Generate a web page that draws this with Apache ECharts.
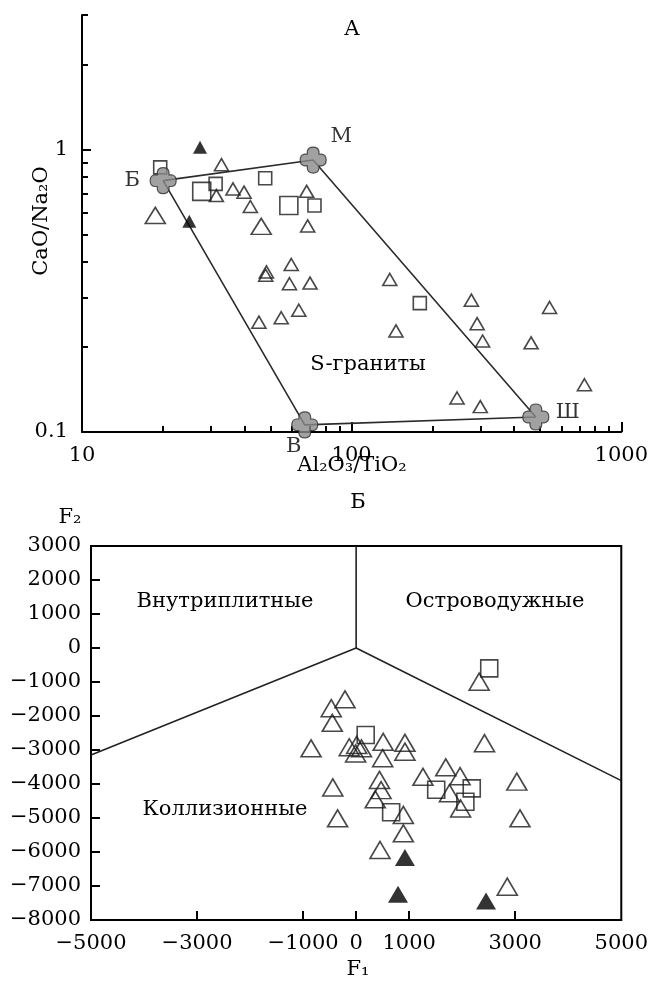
<!DOCTYPE html>
<html><head><meta charset="utf-8">
<script src="https://cdn.jsdelivr.net/npm/echarts@6/dist/echarts.min.js"></script>
<style>html,body{margin:0;padding:0;background:#fff}#c{width:651px;height:988px}</style>
</head><body><div id="c"></div>
<script>
// ---------- Panel A: Al2O3/TiO2 vs CaO/Na2O (log-log) ----------
const endNames = ['Б', 'М', 'Ш', 'В'];
const endX = [20, 72, 482, 67];
const endY = [0.777, 0.919, 0.113, 0.106];
const topTriSmall = [[32.9,0.885],[31.5,0.688],[36.3,0.726],[39.9,0.707],[42.1,0.629],[68.1,0.712],[68.7,0.537],
  [48.3,0.369],[48.0,0.359],[59.7,0.392],[58.8,0.335],[70.1,0.337],[45.3,0.245],[54.8,0.254],[63.7,0.270],
  [138.5,0.347],[278,0.293],[542,0.276],[146,0.228],[292,0.242],[306,0.210],[463,0.207],[730,0.147],[246,0.132],[300,0.123]];
const topTriBig = [[18.7,0.585],[46.2,0.535]];
const topSqSmall = [[19.5,0.866],[31.3,0.757],[47.8,0.792],[72.8,0.634],[179,0.286]];
const topSqBig = [[27.8,0.712],[58.5,0.634]];
const topTriFilled = [[27.4,1.02],[25.0,0.558]];
const xLabelsTop = [10, 100, 1000];
const yLabelsTop = [0.1, 1];
const xMinorTop = [20,30,40,50,60,70,80,90,200,300,400,500,600,700,800,900];
const yMinorTop = [0.2,0.3,0.4,0.5,0.6,0.7,0.8,0.9,2,3];

// ---------- Panel Б: F1 vs F2 ----------
const botTri = [[-210,-1510],[-470,-1770],[-450,-2200],[-850,-2950],[-130,-2920],[10,-2850],[100,-2950],[-10,-3100],
  [510,-2760],[500,-3240],[920,-2790],[920,-3050],[2420,-2800],[2320,-990],[-440,-4100],[440,-3880],[470,-4180],
  [360,-4450],[1260,-3790],[1690,-3510],[1960,-3770],[1760,-4270],[1970,-4720],[3030,-3930],[-350,-5010],
  [450,-5940],[890,-4910],[890,-5450],[3090,-5010],[2850,-7020]];
const botTriFilled = [[920,-6160],[790,-7240],[2450,-7440]];
const botSq = [[2510,-600],[180,-2560],[1510,-4170],[2180,-4130],[2060,-4520],[660,-4830]];
const boundLower = [[-5000,-3150],[0,0],[5000,-3900]];
const boundUpper = [[0,0],[0,3000]];
const xLabelsBot = [-5000,-3000,-1000,0,1000,3000,5000];
const xTicksBot = [-3000,-1000,0,1000,3000];

const FONT = 'DejaVu Serif';
const INK = '#000';
const FS = 21;
const minus = v => (v < 0 ? '\u2212' + Math.abs(v) : String(v));
const lbl = (extra) => Object.assign({color: INK, fontFamily: FONT, fontSize: FS}, extra);
const crossPath = 'path://M5.5,5.5 L5.5,3.5 Q6,0 10,0 Q14,0 14.5,3.5 L14.5,5.5 L16.5,5.5 Q20,6 20,10 Q20,14 16.5,14.5 L14.5,14.5 L14.5,16.5 Q14,20 10,20 Q6,20 5.5,16.5 L5.5,14.5 L3.5,14.5 Q0,14 0,10 Q0,6 3.5,5.5 Z';
const open = {color: 'rgba(255,255,255,0)', borderColor: '#1a1a1a', borderWidth: 1.6};
const labelOffsets = [[-31, 0], [28, -24], [32, -4], [-11, 22]];
const txt = (x, y, text, extra) => Object.assign({type: 'text', x, y,
  style: {text, fill: INK, font: FS + 'px "DejaVu Serif"', textAlign: 'center', textVerticalAlign: 'middle'}}, extra || {});

const chart = echarts.init(document.getElementById('c'), null, {renderer: 'canvas'});
const option = {
  animation: false,
  backgroundColor: '#fff',
  grid: [
    {left: 82, top: 15, width: 541, height: 417},
    {left: 91, top: 546, width: 533, height: 374, show: true, borderColor: '#000', borderWidth: 2}
  ],
  xAxis: [
    {gridIndex: 0, type: 'log', logBase: 10, min: 10, max: 1000, position: 'bottom',
      axisLine: {onZero: false, lineStyle: {color: '#000', width: 2}},
      axisTick: {inside: true, length: 10, customValues: xLabelsTop, lineStyle: {color: '#000', width: 2}},
      axisLabel: lbl({customValues: xLabelsTop, margin: 13, formatter: v => String(v)}),
      splitLine: {show: false}},
    {gridIndex: 0, type: 'log', logBase: 10, min: 10, max: 1000, position: 'bottom',
      axisLine: {show: false, onZero: false},
      axisTick: {inside: true, length: 6, customValues: xMinorTop, lineStyle: {color: '#000', width: 2}},
      axisLabel: {show: false}, splitLine: {show: false}},
    {gridIndex: 1, type: 'value', min: -5000, max: 5000, interval: 1000, position: 'bottom',
      axisLine: {onZero: false, lineStyle: {color: '#000', width: 2}},
      axisTick: {inside: true, length: 9, customValues: xTicksBot, lineStyle: {color: '#000', width: 2}},
      axisLabel: lbl({customValues: xLabelsBot, margin: 13, formatter: minus}),
      splitLine: {show: false}}
  ],
  yAxis: [
    {gridIndex: 0, type: 'log', logBase: 10, min: 0.1, max: 3, position: 'left',
      axisLine: {onZero: false, lineStyle: {color: '#000', width: 2}},
      axisTick: {inside: true, length: 9, customValues: [1], lineStyle: {color: '#000', width: 2}},
      axisLabel: lbl({customValues: yLabelsTop, margin: 14, formatter: v => String(v)}),
      splitLine: {show: false}},
    {gridIndex: 0, type: 'log', logBase: 10, min: 0.1, max: 3, position: 'left',
      axisLine: {show: false, onZero: false},
      axisTick: {inside: true, length: 6, customValues: yMinorTop, lineStyle: {color: '#000', width: 2}},
      axisLabel: {show: false}, splitLine: {show: false}},
    {gridIndex: 1, type: 'value', min: -8000, max: 3000, interval: 1000, position: 'left',
      axisLine: {onZero: false, lineStyle: {color: '#000', width: 2}},
      axisTick: {inside: true, length: 9, lineStyle: {color: '#000', width: 2}},
      axisLabel: lbl({margin: 10, formatter: minus}),
      splitLine: {show: false}}
  ],
  series: [
    {type: 'line', xAxisIndex: 0, yAxisIndex: 0, silent: true, symbol: 'none', z: 2,
      data: [0, 1, 2, 3, 0].map(i => [endX[i], endY[i]]),
      lineStyle: {color: '#2b2b2b', width: 1.6}},
    {type: 'scatter', xAxisIndex: 0, yAxisIndex: 0, symbol: 'rect', symbolSize: 13, data: topSqSmall, itemStyle: open, z: 3},
    {type: 'scatter', xAxisIndex: 0, yAxisIndex: 0, symbol: 'rect', symbolSize: 18, data: topSqBig, itemStyle: open, z: 3},
    {type: 'scatter', xAxisIndex: 0, yAxisIndex: 0, symbol: 'triangle', symbolSize: [14, 12], data: topTriSmall, itemStyle: open, z: 3},
    {type: 'scatter', xAxisIndex: 0, yAxisIndex: 0, symbol: 'triangle', symbolSize: [20, 16], data: topTriBig, itemStyle: open, z: 3},
    {type: 'scatter', xAxisIndex: 0, yAxisIndex: 0, symbol: 'triangle', symbolSize: [14, 13], data: topTriFilled,
      itemStyle: {color: '#000'}, z: 3},
    {type: 'scatter', xAxisIndex: 0, yAxisIndex: 0, symbol: crossPath, symbolSize: 26, z: 4,
      itemStyle: {color: '#8a8a8a', borderColor: '#2e2e2e', borderWidth: 1.2},
      data: endNames.map((n, i) => ({name: n, value: [endX[i], endY[i]],
        label: {show: true, position: 'inside', offset: labelOffsets[i], formatter: '{b}',
          color: INK, fontFamily: FONT, fontSize: FS}}))},

    {type: 'line', xAxisIndex: 2, yAxisIndex: 2, silent: true, symbol: 'none', z: 2,
      data: boundLower, lineStyle: {color: '#222', width: 1.6}},
    {type: 'line', xAxisIndex: 2, yAxisIndex: 2, silent: true, symbol: 'none', z: 2,
      data: boundUpper, lineStyle: {color: '#222', width: 1.6}},
    {type: 'scatter', xAxisIndex: 2, yAxisIndex: 2, symbol: 'rect', symbolSize: 17, data: botSq, itemStyle: open, z: 3},
    {type: 'scatter', xAxisIndex: 2, yAxisIndex: 2, symbol: 'triangle', symbolSize: [20, 17], data: botTri, itemStyle: open, z: 3},
    {type: 'scatter', xAxisIndex: 2, yAxisIndex: 2, symbol: 'triangle', symbolSize: [20, 17], data: botTriFilled,
      itemStyle: {color: '#000'}, z: 3}
  ],
  graphic: [
    txt(352, 30, 'А'),
    txt(368, 365, 'S-граниты'),
    txt(42, 221, 'CaO/Na\u2082O', {rotation: Math.PI / 2}),
    txt(352, 466, 'Al\u2082O\u2083/TiO\u2082'),
    txt(70, 518, 'F\u2082'),
    txt(358, 503, 'Б'),
    txt(358, 970, 'F\u2081'),
    txt(225, 602, 'Внутриплитные'),
    txt(495, 602, 'Островодужные'),
    txt(225, 810, 'Коллизионные')
  ]
};
chart.setOption(option);
</script></body></html>
